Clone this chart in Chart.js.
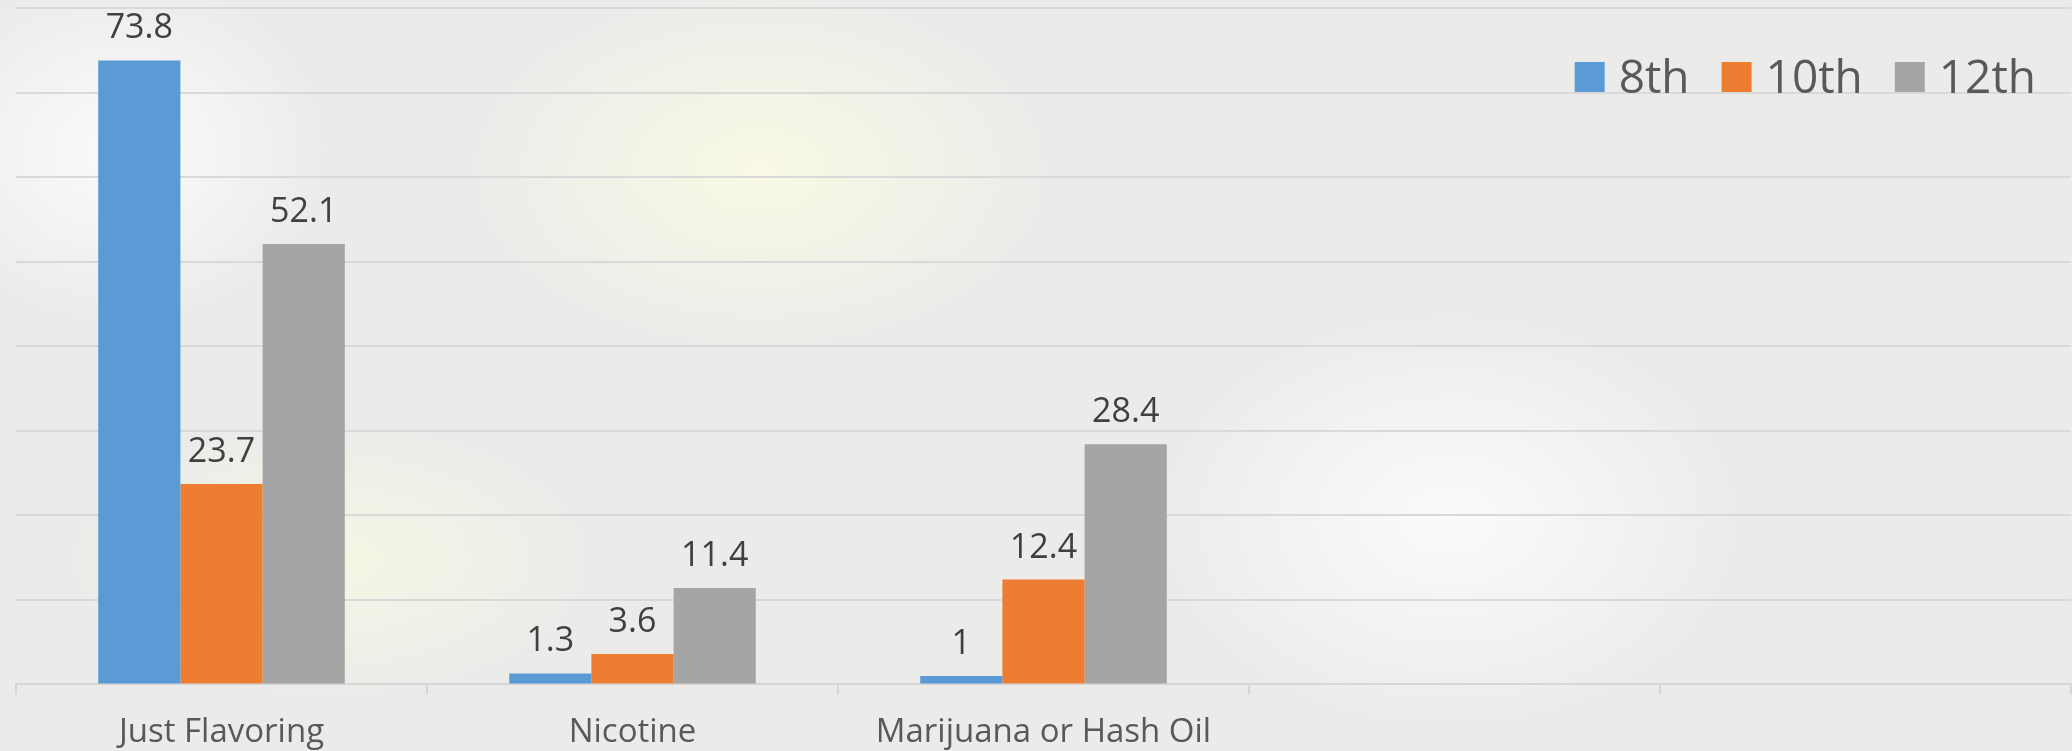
<!DOCTYPE html>
<html>
<head>
<meta charset="utf-8">
<script src="https://cdn.jsdelivr.net/npm/chart.js@4/dist/chart.umd.min.js"></script>
<style>
  html, body { margin: 0; padding: 0; }
  body { width: 2072px; height: 751px; overflow: hidden; }
  #wrap {
    position: relative; width: 2072px; height: 751px; overflow: hidden;
    background:
      radial-gradient(ellipse 420px 260px at 760px 170px, rgba(250,250,228,0.9), rgba(250,250,228,0) 70%),
      radial-gradient(ellipse 380px 200px at 330px 560px, rgba(248,248,226,0.8), rgba(248,248,226,0) 70%),
      radial-gradient(ellipse 420px 300px at 1450px 520px, rgba(252,252,252,0.9), rgba(252,252,252,0) 70%),
      radial-gradient(ellipse 300px 250px at 120px 150px, rgba(252,252,252,0.9), rgba(252,252,252,0) 70%),
      #ebecea;
  }
  canvas { display: block; }
</style>
</head>
<body>
<div id="wrap"><canvas id="c" width="2072" height="770"></canvas></div>
<script>
// ---- data ----
const categories = ['Just Flavoring', 'Nicotine', 'Marijuana or Hash Oil', '', ''];
const seriesNames = ['8th', '10th', '12th'];
const grade8 = [73.8, 1.3, 1, null, null];
const grade10 = [23.7, 3.6, 12.4, null, null];
const grade12 = [52.1, 11.4, 28.4, null, null];
const yMin = 0, yMax = 80, yStep = 10;

const colors = ['#5b9bd5', '#ed7d31', '#a5a5a5'];
const FONT = "'Open Sans', 'DejaVu Sans', sans-serif";
Chart.defaults.font.family = FONT;

const valueLabels = {
  id: 'valueLabels',
  afterDatasetsDraw(chart) {
    const ctx = chart.ctx;
    ctx.save();
    ctx.font = '34px ' + FONT;
    ctx.fillStyle = '#404040';
    ctx.textAlign = 'center';
    ctx.textBaseline = 'alphabetic';
    chart.data.datasets.forEach((ds, i) => {
      const meta = chart.getDatasetMeta(i);
      meta.data.forEach((bar, j) => {
        const v = ds.data[j];
        if (v === null || v === undefined) return;
        ctx.fillText(String(v), bar.x, bar.y - 22);
      });
    });
    ctx.restore();
  }
};

const customLegend = {
  id: 'customLegend',
  afterDraw(chart) {
    const ctx = chart.ctx;
    ctx.save();
    ctx.font = '46px ' + FONT;
    ctx.textBaseline = 'alphabetic';
    ctx.textAlign = 'left';
    const box = 30, gapText = 14, gapItem = 32;
    const items = chart.data.datasets.map(ds => ({ label: ds.label, color: ds.backgroundColor, w: ctx.measureText(ds.label).width }));
    let total = items.reduce((s, it) => s + box + gapText + it.w, 0) + gapItem * (items.length - 1);
    let x = 2036 - total;
    const top = 62, baseline = 93;
    items.forEach(it => {
      ctx.fillStyle = it.color;
      ctx.fillRect(x, top, box, box);
      x += box + gapText;
      ctx.fillStyle = '#595959';
      ctx.fillText(it.label, x, baseline);
      x += it.w + gapItem;
    });
    ctx.restore();
  }
};

new Chart(document.getElementById('c'), {
  type: 'bar',
  data: {
    labels: categories,
    datasets: [
      { label: seriesNames[0], data: grade8, backgroundColor: colors[0] },
      { label: seriesNames[1], data: grade10, backgroundColor: colors[1] },
      { label: seriesNames[2], data: grade12, backgroundColor: colors[2] }
    ]
  },
  options: {
    responsive: false,
    devicePixelRatio: 1,
    animation: false,
    categoryPercentage: 0.6,
    barPercentage: 1.0,
    layout: { padding: { left: 16, right: 1, top: 8, bottom: 0 } },
    plugins: {
      legend: { display: false },
      tooltip: { enabled: false },
      title: { display: false }
    },
    scales: {
      x: {
        grid: { display: true, drawOnChartArea: false, drawTicks: true, tickLength: 10, color: '#d6d6d6', lineWidth: 2 },
        border: { display: true, color: '#d6d6d6', width: 2 },
        ticks: { color: '#595959', font: { size: 33, family: FONT }, padding: 18, maxRotation: 0, autoSkip: false }
      },
      y: {
        min: yMin, max: yMax,
        ticks: { display: false, stepSize: yStep },
        grid: { color: '#d9d9d9', lineWidth: 2, drawTicks: false },
        border: { display: false }
      }
    }
  },
  plugins: [valueLabels, customLegend]
});
</script>
</body>
</html>
